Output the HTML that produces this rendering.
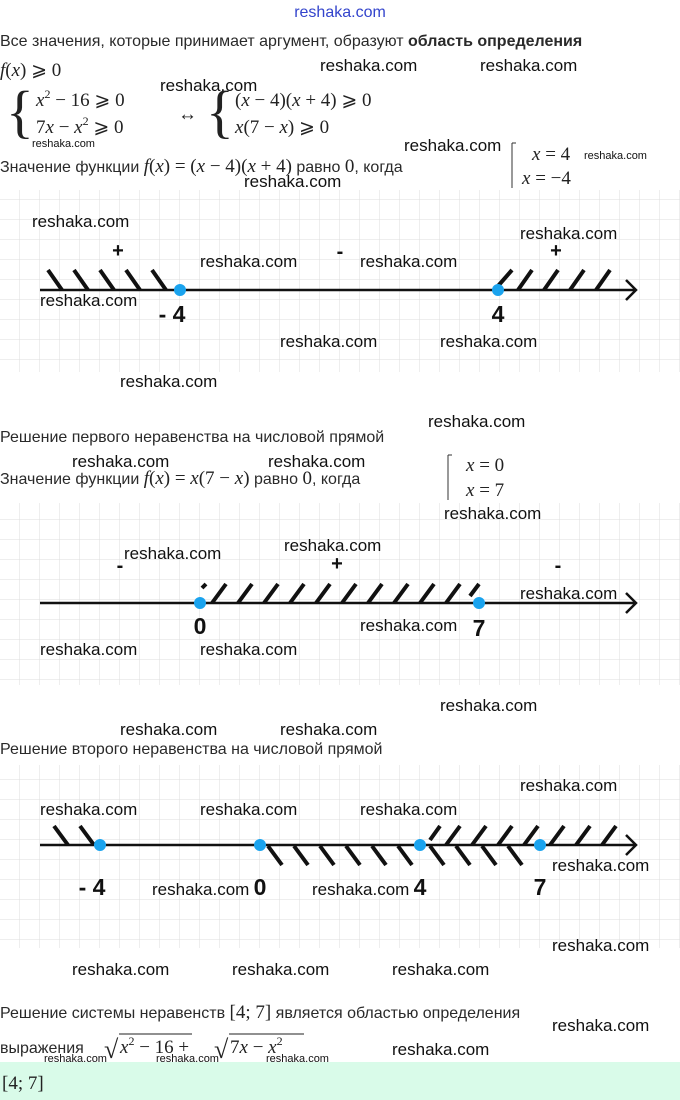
<!DOCTYPE html>
<html><head><meta charset="utf-8"><style>
html,body{margin:0;padding:0;background:#fff;}
svg{display:block}
.t{font-family:"Liberation Sans",sans-serif;font-size:16px;fill:#2a2a2a}
.m{font-family:"Liberation Serif",serif;font-style:italic;font-size:19px;fill:#222}
.mn{font-family:"Liberation Serif",serif;font-style:normal;font-size:19px;fill:#222}
.sup{font-family:"Liberation Serif",serif;font-style:normal;font-size:12px;fill:#222}
.br{font-family:"Liberation Serif",serif;font-style:normal;font-size:58px;fill:#222}
.sq{font-family:"Liberation Serif",serif;font-style:normal;font-size:26px;fill:#222}
.w{font-family:"Liberation Sans Narrow","Liberation Sans",sans-serif;font-size:17px;fill:#111}
.ws{font-family:"Liberation Sans Narrow","Liberation Sans",sans-serif;font-size:11px;fill:#111}
.n{font-family:"Liberation Sans",sans-serif;font-weight:bold;font-size:23px;fill:#111}
.s{font-family:"Liberation Sans",sans-serif;font-weight:bold;font-size:20px;fill:#111}
</style></head><body>
<svg width="680" height="1100" viewBox="0 0 680 1100" xmlns="http://www.w3.org/2000/svg">
<defs>
<pattern id="g" width="20" height="20" patternUnits="userSpaceOnUse" x="0" y="0">
<path d="M20 0V20M0 20H20" stroke="#dedede" stroke-width="1" fill="none"/>
</pattern>
</defs>
<rect x="0" y="190" width="680" height="182" fill="url(#g)"/>
<rect x="0" y="503" width="680" height="182" fill="url(#g)"/>
<rect x="0" y="765" width="680" height="183" fill="url(#g)"/>
<rect x="0" y="1062" width="680" height="38" fill="#d9fbe9"/>

<text x="340" y="17" text-anchor="middle" font-family="Liberation Sans Narrow,Liberation Sans,sans-serif" font-size="16" fill="#3344cc">reshaka.com</text>
<text class="t" x="0" y="46">Все значения, которые принимает аргумент, образуют <tspan font-weight="bold">область определения</tspan></text>
<text class="m" x="0" y="76">f<tspan class="mn">(</tspan>x<tspan class="mn">)  ⩾  0</tspan></text>
<text class="br" x="6" y="131">{</text>
<text class="m" x="36" y="106">x<tspan class="sup" dy="-8">2</tspan><tspan class="mn" dy="8"> − 16  ⩾  0</tspan></text>
<text class="m" x="36" y="133"><tspan class="mn">7</tspan>x<tspan class="mn"> − </tspan>x<tspan class="sup" dy="-8">2</tspan><tspan class="mn" dy="8">  ⩾  0</tspan></text>
<text class="mn" x="178" y="120">↔</text>
<text class="br" x="206" y="131">{</text>
<text class="m" x="235" y="106"><tspan class="mn">(</tspan>x<tspan class="mn"> − 4)(</tspan>x<tspan class="mn"> + 4)  ⩾  0</tspan></text>
<text class="m" x="235" y="133">x<tspan class="mn">(7 − </tspan>x<tspan class="mn">)  ⩾  0</tspan></text>
<text class="t" x="0" y="172">Значение функции <tspan class="m">f</tspan><tspan class="mn">(</tspan><tspan class="m">x</tspan><tspan class="mn">) = (</tspan><tspan class="m">x</tspan><tspan class="mn"> − 4)(</tspan><tspan class="m">x</tspan><tspan class="mn"> + 4)</tspan> равно <tspan class="mn">0</tspan>, когда</text>
<path d="M512 143V188M512 143H516" stroke="#333" fill="none"/>
<text class="m" x="532" y="160">x<tspan class="mn"> = 4</tspan></text>
<text class="m" x="522" y="184">x<tspan class="mn"> = −4</tspan></text>

<text class="w" x="320" y="71">reshaka.com</text>
<text class="w" x="480" y="71">reshaka.com</text>
<text class="w" x="160" y="91">reshaka.com</text>
<text class="ws" x="32" y="147">reshaka.com</text>
<text class="w" x="404" y="151">reshaka.com</text>
<text class="ws" x="584" y="159">reshaka.com</text>
<text class="w" x="244" y="187">reshaka.com</text>

<!-- Grid 1 -->
<g stroke="#111" stroke-width="4" fill="none">
<path d="M48 270L62 290M74 270L88 290M100 270L114 290M126 270L140 290M152 270L166 290"/>
<path d="M498 286L512 270M518 290L532 270M544 290L558 270M570 290L584 270M596 290L610 270"/>
</g>
<path d="M40 290H636M626 280L636 290L626 300" stroke="#111" stroke-width="2.5" fill="none"/>
<circle cx="180" cy="290" r="6" fill="#1aa3ee"/>
<circle cx="498" cy="290" r="6" fill="#1aa3ee"/>
<text class="n" x="172" y="322" text-anchor="middle">- 4</text>
<text class="n" x="498" y="322" text-anchor="middle">4</text>
<text class="s" x="118" y="257" text-anchor="middle">+</text>
<text class="s" x="340" y="258" text-anchor="middle">-</text>
<text class="s" x="556" y="257" text-anchor="middle">+</text>
<text class="w" x="32" y="227">reshaka.com</text>
<text class="w" x="520" y="239">reshaka.com</text>
<text class="w" x="200" y="267">reshaka.com</text>
<text class="w" x="360" y="267">reshaka.com</text>
<text class="w" x="40" y="306">reshaka.com</text>
<text class="w" x="280" y="347">reshaka.com</text>
<text class="w" x="440" y="347">reshaka.com</text>
<text class="w" x="120" y="387">reshaka.com</text>

<text class="w" x="428" y="427">reshaka.com</text>
<text class="t" x="0" y="442">Решение первого неравенства на числовой прямой</text>
<text class="w" x="72" y="467">reshaka.com</text>
<text class="w" x="268" y="467">reshaka.com</text>
<text class="t" x="0" y="484">Значение функции <tspan class="m">f</tspan><tspan class="mn">(</tspan><tspan class="m">x</tspan><tspan class="mn">) = </tspan><tspan class="m">x</tspan><tspan class="mn">(7 − </tspan><tspan class="m">x</tspan><tspan class="mn">)</tspan> равно <tspan class="mn">0</tspan>, когда</text>
<path d="M448 455V500M448 455H452" stroke="#333" fill="none"/>
<text class="m" x="466" y="471">x<tspan class="mn"> = 0</tspan></text>
<text class="m" x="466" y="496">x<tspan class="mn"> = 7</tspan></text>
<text class="w" x="444" y="519">reshaka.com</text>

<!-- Grid 2 -->
<g stroke="#111" stroke-width="4" fill="none">
<path d="M202 588L206 584M212 603L226 584M238 603L252 584M264 603L278 584M290 603L304 584M316 603L330 584M342 603L356 584M368 603L382 584M394 603L408 584M420 603L434 584M446 603L460 584M470 596L479 584"/>
</g>
<path d="M40 603H636M626 593L636 603L626 613" stroke="#111" stroke-width="2.5" fill="none"/>
<circle cx="200" cy="603" r="6" fill="#1aa3ee"/>
<circle cx="479" cy="603" r="6" fill="#1aa3ee"/>
<text class="n" x="200" y="634" text-anchor="middle">0</text>
<text class="n" x="479" y="636" text-anchor="middle">7</text>
<text class="s" x="120" y="572" text-anchor="middle">-</text>
<text class="s" x="337" y="570" text-anchor="middle">+</text>
<text class="s" x="558" y="572" text-anchor="middle">-</text>
<text class="w" x="124" y="559">reshaka.com</text>
<text class="w" x="284" y="551">reshaka.com</text>
<text class="w" x="520" y="599">reshaka.com</text>
<text class="w" x="360" y="631">reshaka.com</text>
<text class="w" x="40" y="655">reshaka.com</text>
<text class="w" x="200" y="655">reshaka.com</text>
<text class="w" x="440" y="711">reshaka.com</text>
<text class="w" x="120" y="735">reshaka.com</text>
<text class="w" x="280" y="735">reshaka.com</text>
<text class="t" x="0" y="754">Решение второго неравенства на числовой прямой</text>

<!-- Grid 3 -->
<g stroke="#111" stroke-width="4" fill="none">
<path d="M54 826L68 845M80 826L94 845"/>
<path d="M268 846L282 865M294 846L308 865M320 846L334 865M346 846L360 865M372 846L386 865M398 846L412 865M430 846L444 865M456 846L470 865M482 846L496 865M508 846L522 865"/>
<path d="M430 840L440 826M446 845L460 826M472 845L486 826M498 845L512 826M524 845L538 826M550 845L564 826M576 845L590 826M602 845L616 826"/>
</g>
<path d="M40 845H636M626 835L636 845L626 855" stroke="#111" stroke-width="2.5" fill="none"/>
<circle cx="100" cy="845" r="6" fill="#1aa3ee"/>
<circle cx="260" cy="845" r="6" fill="#1aa3ee"/>
<circle cx="420" cy="845" r="6" fill="#1aa3ee"/>
<circle cx="540" cy="845" r="6" fill="#1aa3ee"/>
<text class="n" x="92" y="895" text-anchor="middle">- 4</text>
<text class="n" x="260" y="895" text-anchor="middle">0</text>
<text class="n" x="420" y="895" text-anchor="middle">4</text>
<text class="n" x="540" y="895" text-anchor="middle">7</text>
<text class="w" x="520" y="791">reshaka.com</text>
<text class="w" x="40" y="815">reshaka.com</text>
<text class="w" x="200" y="815">reshaka.com</text>
<text class="w" x="360" y="815">reshaka.com</text>
<text class="w" x="552" y="871">reshaka.com</text>
<text class="w" x="152" y="895">reshaka.com</text>
<text class="w" x="312" y="895">reshaka.com</text>
<text class="w" x="552" y="951">reshaka.com</text>
<text class="w" x="72" y="975">reshaka.com</text>
<text class="w" x="232" y="975">reshaka.com</text>
<text class="w" x="392" y="975">reshaka.com</text>

<text class="t" x="0" y="1018">Решение системы неравенств <tspan class="mn">[4; 7]</tspan> является областью определения</text>
<text class="w" x="552" y="1031">reshaka.com</text>
<text class="t" x="0" y="1053">выражения</text>
<text class="sq" x="104" y="1058">√</text>
<path d="M119 1034H192" stroke="#222" stroke-width="1"/>
<text class="m" x="120" y="1053">x<tspan class="sup" dy="-8">2</tspan><tspan class="mn" dy="8"> − 16 + </tspan></text>
<text class="sq" x="214" y="1058">√</text>
<path d="M229 1034H304" stroke="#222" stroke-width="1"/>
<text class="m" x="230" y="1053"><tspan class="mn">7</tspan>x<tspan class="mn"> − </tspan>x<tspan class="sup" dy="-8">2</tspan></text>
<text class="w" x="392" y="1055">reshaka.com</text>
<text class="ws" x="44" y="1062">reshaka.com</text>
<text class="ws" x="156" y="1062">reshaka.com</text>
<text class="ws" x="266" y="1062">reshaka.com</text>
<text class="mn" x="2" y="1089">[4; 7]</text>
</svg>
</body></html>
